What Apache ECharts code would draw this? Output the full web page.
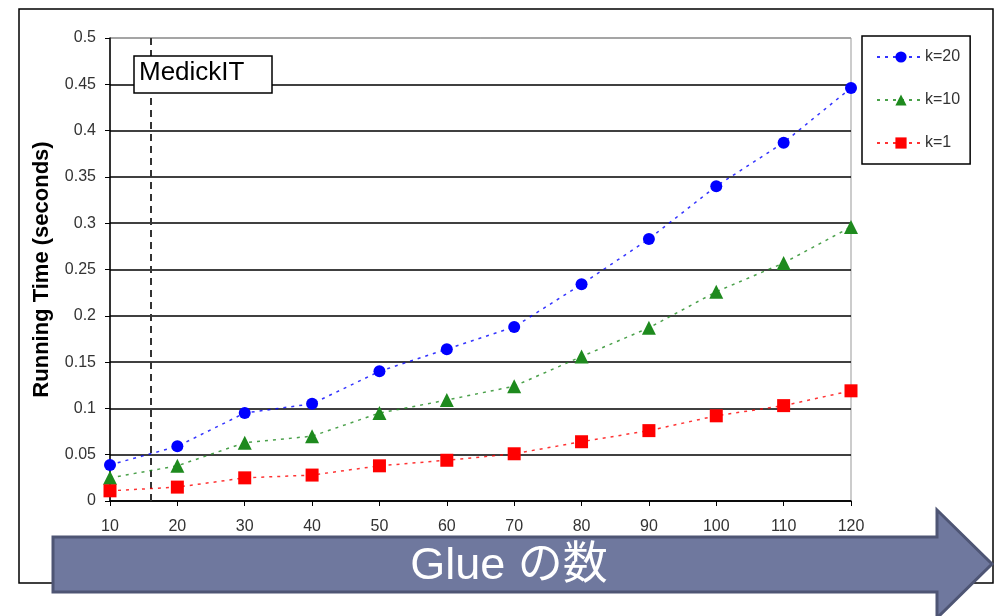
<!DOCTYPE html>
<html>
<head>
<meta charset="utf-8">
<script src="https://cdn.jsdelivr.net/npm/echarts@6/dist/echarts.min.js"></script>
<style>
  html, body { margin: 0; padding: 0; background: #fff; }
  #chart { width: 1000px; height: 616px; }
</style>
</head>
<body>
<div id="chart"></div>
<script>
// glue counts on the x axis
var glueCounts = [10, 20, 30, 40, 50, 60, 70, 80, 90, 100, 110, 120];
// running times (seconds)
var k20 = [0.039, 0.059, 0.095, 0.105, 0.140, 0.164, 0.188, 0.234, 0.283, 0.340, 0.387, 0.446];
var k10 = [0.025, 0.038, 0.063, 0.070, 0.095, 0.109, 0.124, 0.156, 0.187, 0.226, 0.257, 0.296];
var k1 = [0.011, 0.015, 0.025, 0.028, 0.038, 0.044, 0.051, 0.064, 0.076, 0.092, 0.103, 0.119];
var medickitX = 16;

var pairs = function (ys) {
  return glueCounts.map(function (x, i) { return [x, ys[i]]; });
};

var myChart = echarts.init(document.getElementById('chart'));
var font = 'Liberation Sans, Arial, sans-serif';

var lineSeries = function (name, ys, color, symbol, size) {
  return {
    name: name,
    type: 'line',
    data: pairs(ys),
    symbol: symbol,
    symbolSize: size,
    showAllSymbol: true,
    itemStyle: { color: color },
    lineStyle: { color: color, width: 1.5, type: [3, 5], opacity: 0.8 },
    z: 5
  };
};

var option = {
  backgroundColor: '#fff',
  animation: false,
  textStyle: { fontFamily: font },
  grid: {
    left: 110, right: 149, top: 38, bottom: 115,
    show: true, borderColor: '#999', borderWidth: 1
  },
  legend: {
    orient: 'vertical',
    left: 862, top: 36,
    padding: [13, 10, 13, 14],
    itemGap: 27,
    itemWidth: 48,
    itemHeight: 14,
    borderColor: '#000',
    borderWidth: 1.5,
    textStyle: { fontSize: 16, color: '#333', padding: [0, 0, 0, -5] },
    data: ['k=20', 'k=10', 'k=1']
  },
  xAxis: {
    type: 'value',
    min: 10, max: 120, interval: 10,
    axisLine: { lineStyle: { color: '#000', width: 1.5 } },
    axisTick: { show: true, length: 5, lineStyle: { color: '#000' } },
    axisLabel: { color: '#333', fontSize: 16, margin: 18 },
    splitLine: { show: false }
  },
  yAxis: {
    type: 'value',
    min: 0, max: 0.5, interval: 0.05,
    name: 'Running Time (seconds)',
    nameLocation: 'middle',
    nameGap: 57,
    nameTextStyle: { fontSize: 22, fontWeight: 'bold', color: '#000' },
    axisLine: { show: true, lineStyle: { color: '#000', width: 1.5 } },
    axisTick: { show: true, length: 5, lineStyle: { color: '#000' } },
    axisLabel: { color: '#333', fontSize: 16, margin: 14 },
    splitLine: {
      show: true,
      lineStyle: {
        width: 1.5,
        color: ['#000', '#000', '#000', '#000', '#000', '#000', '#000', '#000', '#000', '#000', '#999']
      }
    }
  },
  series: [
    lineSeries('k=20', k20, '#0000ff', 'circle', 12),
    lineSeries('k=10', k10, '#1e8a1e', 'triangle', 14),
    lineSeries('k=1', k1, '#ff0000', 'rect', 13),
    {
      type: 'line',
      data: [],
      markLine: {
        symbol: 'none',
        silent: true,
        label: { show: false },
        lineStyle: { color: '#333', type: [7, 5], width: 2 },
        data: [{ xAxis: medickitX }]
      }
    }
  ],
  graphic: [
    {
      type: 'rect',
      shape: { x: 19, y: 9, width: 974, height: 574 },
      style: { fill: 'none', stroke: '#000', lineWidth: 1.5 },
      z: 0
    },
    {
      type: 'rect',
      z: 100,
      shape: { x: 134, y: 56, width: 138, height: 37 },
      style: { fill: '#fff', stroke: '#000', lineWidth: 1.5 }
    },
    {
      type: 'text',
      z: 101,
      x: 139, y: 73,
      style: {
        text: 'MedickIT',
        font: '26px ' + font,
        fill: '#000',
        verticalAlign: 'middle'
      }
    },
    {
      type: 'polygon',
      z: 30,
      shape: {
        points: [[53, 537], [937, 537], [937, 510], [992, 564], [937, 618], [937, 592], [53, 592]]
      },
      style: { fill: '#6f789e', stroke: '#4e5574', lineWidth: 3 }
    },
    {
      type: 'text',
      z: 31,
      x: 509, y: 567,
      style: {
        text: 'Glue の数',
        font: '45px "Liberation Sans", "Noto Sans CJK JP", sans-serif',
        fill: '#fff',
        align: 'center',
        verticalAlign: 'middle'
      }
    }
  ]
};

myChart.setOption(option);
</script>
</body>
</html>
